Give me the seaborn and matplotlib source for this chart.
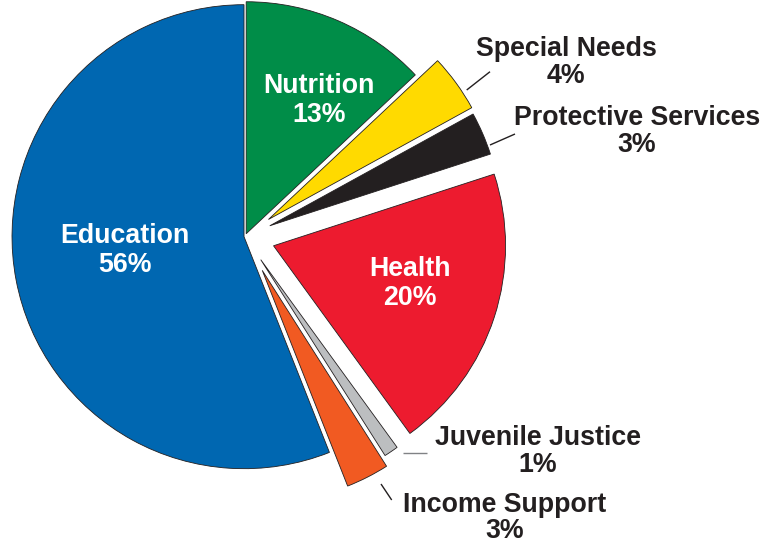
import matplotlib
matplotlib.use("Agg")
import matplotlib.pyplot as plt
import seaborn as sns

# Budget shares by program area, clockwise from 12 o'clock
categories = ["Nutrition", "Special Needs", "Protective Services", "Health",
              "Juvenile Justice", "Income Support", "Education"]
shares = [13, 4, 3, 20, 1, 3, 56]

colors = ["#008D48", "#FFDA00", "#231F20", "#ED1B2F",
          "#BCBEC0", "#F15A22", "#0067B1"]
# wedge offsets from the centre, in pixels
explode = [3, 29, 27, 30, 28, 38, 1]

sns.set_theme(style="white")
plt.rcParams["font.family"] = ["Liberation Sans", "DejaVu Sans"]

W, H = 766, 544
fig = plt.figure(figsize=(W / 100, H / 100), dpi=100)
ax = fig.add_axes([0, 0, 1, 1])

cx, cy, r = 245, H - 236.5, 232
ax.pie(shares, colors=colors, explode=explode, startangle=90,
       counterclock=False, center=(cx, cy), radius=r, frame=False,
       wedgeprops=dict(edgecolor="#231F20", linewidth=0.6))
ax.set_xlim(0, W)
ax.set_ylim(0, H)
ax.set_aspect("equal")
ax.axis("off")

# label anchors: (x centre, baseline of the percentage line), pixels from top-left
label_pos = {
    "Nutrition": (319, 121.7),
    "Special Needs": (566, 83),
    "Protective Services": (637, 152),
    "Health": (410, 305),
    "Juvenile Justice": (538, 472),
    "Income Support": (505, 537.5),
    "Education": (125, 271.5),
}
inside = {"Nutrition", "Health", "Education"}
dark = "#231F20"

for name, val in zip(categories, shares):
    x, y = label_pos[name]
    is_in = name in inside
    ax.text(x, H - y, f"{name}\n{val}%", ha="center", va="baseline",
            fontsize=19.3, fontweight="bold",
            linespacing=1.13 if is_in else (0.98 if name == "Income Support" else 1.03),
            color="white" if is_in else dark)

# leader lines for the outside labels
leaders = [
    ((466.7, 90), (490, 71.7), dark),
    ((490, 145), (515, 134), dark),
    ((403.3, 453.3), (426.7, 453.3), "#808285"),
    ((381, 484), (391.7, 500), dark),
]
for (x0, y0), (x1, y1), c in leaders:
    ax.plot([x0, x1], [H - y0, H - y1], color=c, linewidth=1.0,
            solid_capstyle="butt")

fig.savefig("out.png", dpi=100)
